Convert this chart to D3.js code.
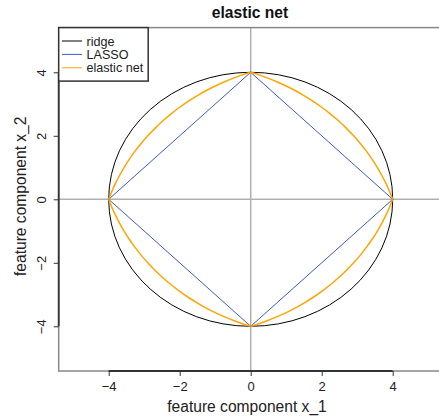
<!DOCTYPE html>
<html>
<head>
<meta charset="utf-8">
<script src="https://cdn.jsdelivr.net/npm/d3@7"></script>
<style>
  html, body { margin: 0; padding: 0; background: #fff; }
  svg { display: block; font-family: "Liberation Sans", Arial, Helvetica, sans-serif; }
</style>
</head>
<body>
<svg id="chart" width="439" height="419"></svg>
<script>
// ---- data ----
const title = "elastic net";
const xLabel = "feature component x_1";
const yLabel = "feature component x_2";
const xTicks = [-4, -2, 0, 2, 4];
const yTicks = [-4, -2, 0, 2, 4];
const axisLimit = 5.408;

// ridge: circle of radius 4
const ridgeRadius = 4;
// LASSO: diamond vertices
const lassoX = [4, 0, -4, 0, 4];
const lassoY = [0, 4, 0, -4, 0];
// elastic net: first-quadrant boundary points, mirrored to other quadrants
const elasticX = [0, 0.25, 0.5, 0.75, 1, 1.25, 1.5, 1.75, 2, 2.25, 2.472, 2.684, 2.899, 3.093, 3.268, 3.426, 3.568, 3.695, 3.809, 3.911, 4];
const elasticY = [4, 3.911, 3.809, 3.695, 3.568, 3.426, 3.268, 3.093, 2.899, 2.684, 2.472, 2.25, 2, 1.75, 1.5, 1.25, 1, 0.75, 0.5, 0.25, 0];

const legendNames = ["ridge", "LASSO", "elastic net"];
const legendColors = ["#000000", "#3a5bc7", "#ffa500"];

// ---- layout ----
const svg = d3.select("#chart");
const x = d3.scaleLinear().domain([-axisLimit, axisLimit]).range([58.7, 442.7]);
const y = d3.scaleLinear().domain([-axisLimit, axisLimit]).range([371, 27.6]);

svg.append("defs").append("clipPath").attr("id", "clip")
  .append("rect")
  .attr("x", x(-axisLimit)).attr("y", y(axisLimit))
  .attr("width", x(axisLimit) - x(-axisLimit)).attr("height", y(-axisLimit) - y(axisLimit));

const plot = svg.append("g").attr("clip-path", "url(#clip)");

// reference lines
plot.append("line")
  .attr("x1", x(0)).attr("x2", x(0)).attr("y1", y(-axisLimit)).attr("y2", y(axisLimit))
  .attr("stroke", "#b0b0b0").attr("stroke-width", 1.5);
plot.append("line")
  .attr("y1", y(0)).attr("y2", y(0)).attr("x1", x(-axisLimit)).attr("x2", x(axisLimit))
  .attr("stroke", "#b0b0b0").attr("stroke-width", 1.5);

// ridge circle
plot.append("ellipse")
  .attr("cx", x(0)).attr("cy", y(0))
  .attr("rx", x(ridgeRadius) - x(0)).attr("ry", y(0) - y(ridgeRadius))
  .attr("fill", "none").attr("stroke", legendColors[0]).attr("stroke-width", 1);

// LASSO diamond
const line = d3.line().x(d => x(d[0])).y(d => y(d[1]));
plot.append("path")
  .attr("d", line(lassoX.map((v, i) => [v, lassoY[i]])))
  .attr("fill", "none").attr("stroke", legendColors[1]).attr("stroke-width", 1);

// elastic net
const quadrants = [[1, 1], [-1, 1], [-1, -1], [1, -1]];
const smooth = d3.line().x(d => x(d[0])).y(d => y(d[1])).curve(d3.curveCatmullRom);
quadrants.forEach(([sx, sy]) => {
  plot.append("path")
    .attr("d", smooth(elasticX.map((v, i) => [sx * v, sy * elasticY[i]])))
    .attr("fill", "none").attr("stroke", legendColors[2]).attr("stroke-width", 1.5);
});

// box
svg.append("rect")
  .attr("x", x(-axisLimit)).attr("y", y(axisLimit))
  .attr("width", x(axisLimit) - x(-axisLimit)).attr("height", y(-axisLimit) - y(axisLimit))
  .attr("fill", "none").attr("stroke", "#888").attr("stroke-width", 1.5);

const fmt = d => d < 0 ? "\u2212" + Math.abs(d) : String(d);

// x axis
const xAxis = svg.append("g").attr("transform", `translate(0,${y(-axisLimit)})`)
  .call(d3.axisBottom(x).tickValues(xTicks).tickFormat(fmt).tickSize(5).tickPadding(6));
xAxis.select(".domain").attr("d", `M${x(xTicks[0])},0H${x(xTicks[xTicks.length - 1])}`)
  .attr("stroke", "#333").attr("stroke-width", 1.8);
xAxis.selectAll(".tick line").attr("stroke", "#333");
xAxis.selectAll("text").attr("font-size", 13).attr("fill", "#222")
  .attr("font-family", "Liberation Sans, Arial, sans-serif");

// y axis
const yAxis = svg.append("g").attr("transform", `translate(${x(-axisLimit)},0)`)
  .call(d3.axisLeft(y).tickValues(yTicks).tickFormat(fmt).tickSize(5));
yAxis.select(".domain").attr("d", `M0,${y(yTicks[0])}V${y(yTicks[yTicks.length - 1])}`)
  .attr("stroke", "#333").attr("stroke-width", 1.8);
yAxis.selectAll(".tick line").attr("stroke", "#333");
yAxis.selectAll(".tick text")
  .attr("x", null).attr("dy", null)
  .attr("transform", "translate(-13,0) rotate(-90)")
  .attr("text-anchor", "middle")
  .attr("font-size", 13).attr("fill", "#222")
  .attr("font-family", "Liberation Sans, Arial, sans-serif");

// title and labels
svg.append("text").attr("x", 250).attr("y", 17.5).attr("text-anchor", "middle")
  .attr("font-size", 15.6).attr("font-weight", "bold").attr("fill", "#111").text(title);
svg.append("text").attr("x", 247).attr("y", 412).attr("text-anchor", "middle")
  .attr("font-size", 15.6).attr("fill", "#222").text(xLabel);
svg.append("text").attr("transform", `translate(25.5,${y(0) - 3}) rotate(-90)`)
  .attr("text-anchor", "middle")
  .attr("font-size", 15.6).attr("fill", "#222").text(yLabel);

// legend
const lg = svg.append("g");
lg.append("rect").attr("x", x(-axisLimit)).attr("y", y(axisLimit))
  .attr("width", 89.5).attr("height", 53.5)
  .attr("fill", "#fff").attr("stroke", "#333").attr("stroke-width", 1.5);
legendNames.forEach((name, i) => {
  const cy = 41 + i * 13.4;
  lg.append("line").attr("x1", 62).attr("x2", 82).attr("y1", cy).attr("y2", cy)
    .attr("stroke", legendColors[i]).attr("stroke-width", 1);
  lg.append("text").attr("x", 86.5).attr("y", cy + 4.5)
    .attr("font-size", 12.6).attr("fill", "#222").text(name);
});
</script>
</body>
</html>
